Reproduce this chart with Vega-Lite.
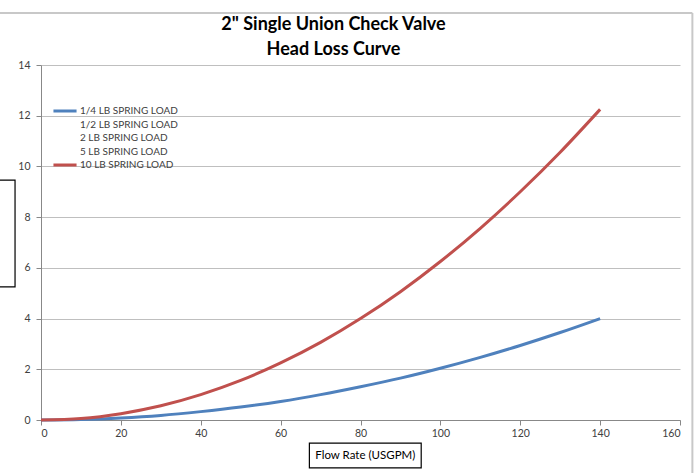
{
  "$schema": "https://vega.github.io/schema/vega-lite/v6.json",
  "width": 639,
  "height": 355,
  "autosize": {"type": "none"},
  "padding": {"left": 41, "top": 65, "right": 17, "bottom": 53},
  "background": "white",
  "config": {
    "font": "Lato",
    "view": {"stroke": null},
    "axis": {"labelFont": "Lato", "labelColor": "#404040", "labelFontSize": 10.5, "domainColor": "#888888", "tickColor": "#888888"}
  },
  "title": {
    "text": ["2\" Single Union Check Valve", "Head Loss Curve"],
    "font": "Lato",
    "fontSize": 18,
    "fontWeight": "bold",
    "color": "#000000",
    "anchor": "middle",
    "dx": -27,
    "offset": -47,
    "lineHeight": 25
  },
  "datasets": {
    "curves": [
      {"flow": 0, "loss": 0, "series": "1/4 LB SPRING LOAD"},
      {"flow": 10, "loss": 0.02, "series": "1/4 LB SPRING LOAD"},
      {"flow": 20, "loss": 0.08, "series": "1/4 LB SPRING LOAD"},
      {"flow": 30, "loss": 0.18, "series": "1/4 LB SPRING LOAD"},
      {"flow": 40, "loss": 0.33, "series": "1/4 LB SPRING LOAD"},
      {"flow": 50, "loss": 0.51, "series": "1/4 LB SPRING LOAD"},
      {"flow": 60, "loss": 0.73, "series": "1/4 LB SPRING LOAD"},
      {"flow": 70, "loss": 1.0, "series": "1/4 LB SPRING LOAD"},
      {"flow": 80, "loss": 1.31, "series": "1/4 LB SPRING LOAD"},
      {"flow": 90, "loss": 1.65, "series": "1/4 LB SPRING LOAD"},
      {"flow": 100, "loss": 2.04, "series": "1/4 LB SPRING LOAD"},
      {"flow": 110, "loss": 2.47, "series": "1/4 LB SPRING LOAD"},
      {"flow": 120, "loss": 2.94, "series": "1/4 LB SPRING LOAD"},
      {"flow": 130, "loss": 3.45, "series": "1/4 LB SPRING LOAD"},
      {"flow": 140, "loss": 4.0, "series": "1/4 LB SPRING LOAD"},
      {"flow": 0, "loss": 0, "series": "10 LB SPRING LOAD"},
      {"flow": 10, "loss": 0.06, "series": "10 LB SPRING LOAD"},
      {"flow": 20, "loss": 0.25, "series": "10 LB SPRING LOAD"},
      {"flow": 30, "loss": 0.56, "series": "10 LB SPRING LOAD"},
      {"flow": 40, "loss": 1.0, "series": "10 LB SPRING LOAD"},
      {"flow": 50, "loss": 1.56, "series": "10 LB SPRING LOAD"},
      {"flow": 60, "loss": 2.25, "series": "10 LB SPRING LOAD"},
      {"flow": 70, "loss": 3.06, "series": "10 LB SPRING LOAD"},
      {"flow": 80, "loss": 4.0, "series": "10 LB SPRING LOAD"},
      {"flow": 90, "loss": 5.06, "series": "10 LB SPRING LOAD"},
      {"flow": 100, "loss": 6.25, "series": "10 LB SPRING LOAD"},
      {"flow": 110, "loss": 7.56, "series": "10 LB SPRING LOAD"},
      {"flow": 120, "loss": 9.0, "series": "10 LB SPRING LOAD"},
      {"flow": 130, "loss": 10.56, "series": "10 LB SPRING LOAD"},
      {"flow": 140, "loss": 12.25, "series": "10 LB SPRING LOAD"}
    ]
  },
  "layer": [
    {
      "data": {"values": [{}]},
      "mark": {"type": "rule", "color": "#C8C8C8", "strokeWidth": 2, "clip": false},
      "encoding": {
        "x": {"datum": -20, "type": "quantitative"},
        "x2": {"datum": 163.1},
        "y": {"datum": 16.05, "type": "quantitative"}
      }
    },
    {
      "data": {"values": [{}]},
      "mark": {"type": "rule", "color": "#C8C8C8", "strokeWidth": 2, "clip": false},
      "encoding": {
        "x": {"datum": 163.1, "type": "quantitative"},
        "y": {"datum": 16.05, "type": "quantitative"},
        "y2": {"datum": -3}
      }
    },
    {
      "data": {"name": "curves"},
      "mark": {"type": "line", "strokeWidth": 3, "interpolate": "monotone", "clip": false},
      "encoding": {
        "x": {
          "field": "flow", "type": "quantitative",
          "scale": {"domain": [0, 160], "nice": false},
          "axis": {"values": [0, 20, 40, 60, 80, 100, 120, 140, 160], "grid": false, "title": null, "tickSize": 5, "labelPadding": 3}
        },
        "y": {
          "field": "loss", "type": "quantitative",
          "scale": {"domain": [0, 14], "nice": false},
          "axis": {
            "values": [0, 2, 4, 6, 8, 10, 12, 14],
            "grid": true, "gridColor": "#BFBFBF", "gridWidth": 1.2,
            "tickSize": 5, "labelPadding": 6,
            "title": "Head Loss (PSI)", "titleFont": "Lato", "titleFontSize": 12, "titleFontWeight": "normal",
            "titleColor": "#000000", "titleX": -46, "titleY": 177, "titleAngle": -90, "titleBaseline": "alphabetic"
          }
        },
        "color": {
          "field": "series", "type": "nominal",
          "scale": {
            "domain": ["1/4 LB SPRING LOAD", "1/2 LB SPRING LOAD", "2 LB SPRING LOAD", "5 LB SPRING LOAD", "10 LB SPRING LOAD"],
            "range": ["#4F81BD", "transparent", "transparent", "transparent", "#C0504D"]
          },
          "legend": {
            "title": null, "orient": "none", "legendX": 17, "legendY": 39, "padding": 0,
            "symbolType": "M-2.1,0H2.1", "symbolSize": 121, "symbolStrokeWidth": 3,
            "labelFont": "Lato", "labelFontSize": 10, "labelColor": "#404040",
            "rowPadding": 0.5, "labelOffset": 8
          }
        }
      }
    },
    {
      "data": {"values": [{}]},
      "mark": {"type": "rect", "fill": "white", "stroke": "#000000", "strokeWidth": 1.2, "clip": false},
      "encoding": {
        "x": {"datum": 67.2, "type": "quantitative"},
        "x2": {"datum": 95.2},
        "y": {"datum": -0.91, "type": "quantitative"},
        "y2": {"datum": -1.89}
      }
    },
    {
      "data": {"values": [{}]},
      "mark": {"type": "text", "text": "Flow Rate (USGPM)", "font": "Lato", "fontSize": 11.5, "color": "#000000", "clip": false},
      "encoding": {
        "x": {"datum": 81.2, "type": "quantitative"},
        "y": {"datum": -1.42, "type": "quantitative"}
      }
    },
    {
      "data": {"values": [{}]},
      "mark": {"type": "rect", "fill": "transparent", "stroke": "#000000", "strokeWidth": 1.2, "clip": false},
      "encoding": {
        "x": {"datum": -6.5, "type": "quantitative"},
        "x2": {"datum": -20},
        "y": {"datum": 9.46, "type": "quantitative"},
        "y2": {"datum": 5.25}
      }
    }
  ]
}
